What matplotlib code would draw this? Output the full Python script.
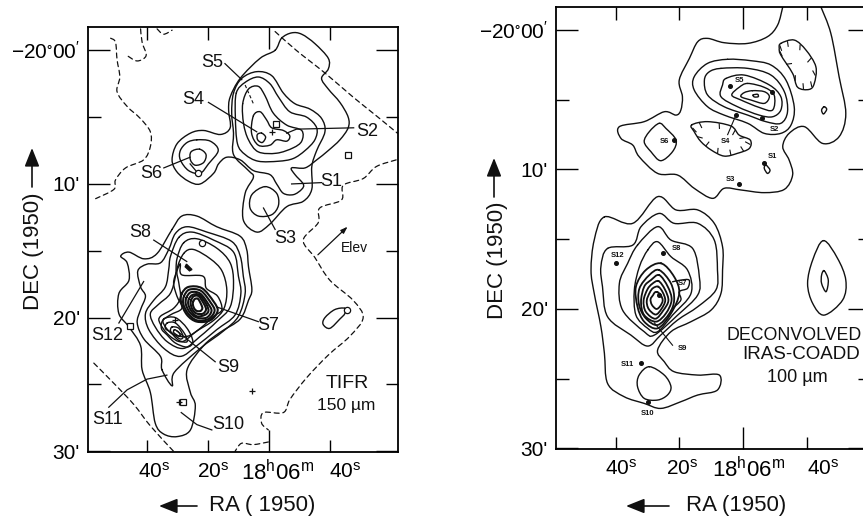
import matplotlib
matplotlib.use("Agg")
import matplotlib.pyplot as plt
from matplotlib.path import Path
from matplotlib.patches import PathPatch
from matplotlib.transforms import ScaledTranslation
import numpy as np

plt.rcParams['font.family'] = ['Liberation Sans', 'DejaVu Sans']
plt.rcParams['mathtext.default'] = 'regular'

# all contours are (RA seconds from 18h06m, Dec arcmin below -20d00')

# ---- left panel, TIFR 150 um
t_upper_outer = [(-2.0,0),(-4.1,-0.9),(-7.4,-1.3),(-10.7,-1.2),(-15.0,-0.5),(-19.4,0.6),(-19.4,1.4),(-17.2,2.1),(-19.4,2.9),(-23.2,3.9),(-25.9,5.0),(-25.9,5.8),(-23.2,6.7),(-19.4,7.5),(-15.6,8.2),(-11.8,8.8),(-7.4,8.8),(-8.5,9.3),(-11.2,10.0),(-10.7,10.4),(-8.0,10.8),(-4.7,10.7),(-2.5,10.0),(-0.3,9.3),(5.1,9.0),(9.4,8.2),(13.8,8.0),(16.5,8.5),(18.1,9.2),(22.5,10.0),(26.3,9.8),(30.1,9.1),(31.7,8.2),(30.1,7.0),(25.7,6.2),(21.4,6.0),(15.9,6.3),(12.7,5.8),(13.2,4.5),(12.7,3.5),(9.4,2.1),(2.9,0.6)]
t_upper_2 = [(11.6,3.2),(8.9,2.1),(4.0,1.6),(-0.9,1.9),(-4.7,3.2),(-8.5,4.0),(-13.4,4.4),(-17.2,5.1),(-18.3,6.1),(-15.6,7.5),(-14.0,8.7),(-14.0,10.4),(-11.2,11.3),(-5.8,11.7),(-0.3,13.0),(4.0,13.6),(8.4,12.7),(7.8,10.7),(5.1,9.5),(6.7,9.0),(11.6,7.8),(11.6,6.2),(12.2,4.7)]
t_s3 = [(1.3,10.2),(-2.5,10.7),(-3.1,11.6),(-0.9,12.3),(3.5,12.4),(6.2,11.8),(5.6,10.8)]
t_upper_3 = [(10.7,3.2),(7.8,2.4),(3.5,2.0),(-0.3,2.5),(-3.1,3.5),(-6.8,4.6),(-12.3,5.0),(-15.6,5.8),(-15.0,6.7),(-11.8,7.5),(-7.9,8.1),(-3.1,8.3),(3.5,8.3),(7.8,7.8),(10.3,7.0),(11.0,5.0)]
t_upper_4 = [(8.6,4.0),(6.7,2.9),(3.5,2.7),(1.3,3.4),(-1.4,4.7),(-5.8,5.6),(-10.7,6.0),(-10.7,6.8),(-7.9,7.3),(-2.5,7.7),(3.5,7.6),(6.7,6.7),(8.3,5.5)]
t_upper_5 = [(5.1,4.9),(2.9,4.6),(0.8,5.2),(-0.9,5.8),(-4.7,6.0),(-6.8,6.4),(-5.8,6.8),(-2.5,6.7),(-0.3,7.1),(3.5,7.1),(5.7,6.2)]
t_s4 = [(2.4,6.2),(1.1,6.5),(2.2,6.9),(3.7,6.7),(3.8,6.3)]
t_s6_a = [(23.6,6.7),(19.2,6.8),(16.6,7.5),(19.8,8.5),(22.5,9.2),(26.3,9.0),(29.0,8.2),(29.0,7.5),(26.8,6.9)]
t_s6_b = [(22.7,7.4),(20.6,7.8),(21.4,8.4),(24.1,8.6),(25.7,8.2),(25.5,7.6)]
t_lower_1 = [(31.7,13.4),(28.5,12.4),(23.6,12.4),(17.1,13.2),(9.5,13.9),(7.3,14.9),(6.7,16.2),(5.6,17.9),(6.7,18.7),(9.4,20.1),(16.0,21.1),(21.4,22.1),(26.8,23.9),(25.7,25.6),(24.1,26.6),(25.7,28.4),(30.1,28.9),(34.5,28.7),(37.2,27.9),(38.8,25.6),(41.5,23.9),(42.0,22.1),(45.8,20.7),(49.1,19.7),(49.1,18.2),(45.8,17.2),(46.4,15.9),(48.5,15.4),(45.8,15.1),(40.9,15.6),(36.6,15.2)]
t_lower_2 = [(35.0,23.9),(31.7,25.1),(31.0,24.1),(22.5,22.3),(14.9,21.0),(10.0,19.9),(7.8,18.2),(8.4,16.9),(9.4,15.4),(12.2,14.3),(20.3,13.6),(26.8,13.2),(30.6,13.7),(32.8,14.9),(35.5,15.9),(39.9,16.0),(42.9,16.5),(42.0,17.7),(40.4,18.4),(42.0,19.4),(43.1,20.4),(40.9,21.6),(35.5,22.9)]
t_lower_3 = [(29.5,14.0),(25.2,13.6),(18.1,14.2),(11.6,15.1),(10.0,16.9),(9.2,18.2),(11.1,19.8),(17.1,20.9),(23.6,22.1),(29.0,22.9),(34.4,22.3),(39.3,20.9),(40.4,19.7),(37.7,18.7),(33.9,17.7),(32.8,16.4),(32.2,15.4)]
t_lower_4 = [(27.9,14.4),(23.6,14.1),(17.1,14.8),(12.7,15.9),(11.6,17.4),(12.7,19.2),(17.1,20.3),(22.5,21.4),(27.9,22.3),(33.3,21.8),(37.2,20.7),(38.8,19.7),(36.1,19.0),(32.3,18.2),(30.6,16.9),(30.1,15.6)]
t_lower_5 = [(27.9,15.2),(24.7,14.9),(19.2,15.6),(15.4,16.5),(13.8,17.9),(14.7,19.3),(18.1,20.2),(23.6,21.0),(28.5,21.8),(32.8,21.3),(35.7,20.4),(35.5,19.9),(31.2,19.3),(29.0,18.5),(29.5,17.4),(30.1,16.4)]
t_lower_6 = [(29.0,16.0),(28.5,16.8),(21.6,16.9),(20.5,17.8),(16.8,18.4),(15.4,19.4),(18.1,19.9),(22.5,20.8),(26.8,21.4),(31.7,21.2),(34.7,20.3),(32.3,19.8),(28.5,19.3),(30.1,18.4),(31.2,17.4),(30.1,16.5)]
t_s7_rings = [
    [(28.5,18.2),(26.3,17.7),(21.9,17.8),(18.1,18.8),(16.8,19.5),(19.2,20.2),(23.6,20.3),(26.8,19.8),(28.7,18.9)],
    [(27.8,18.4),(26.0,17.9),(22.2,18.0),(19.0,18.9),(17.8,19.5),(19.8,20.1),(23.6,20.2),(26.4,19.7),(28.0,19.0)],
    [(27.0,18.5),(25.5,18.1),(22.5,18.2),(19.8,19.0),(18.8,19.5),(20.4,20.0),(23.6,20.0),(25.9,19.6),(27.2,19.0)],
    [(26.2,18.6),(25.0,18.3),(22.8,18.3),(20.5,19.0),(19.8,19.5),(21.0,19.8),(23.6,19.9),(25.4,19.5),(26.4,19.0)],
    [(25.5,18.7),(24.6,18.4),(23.0,18.4),(21.2,19.0),(20.6,19.4),(21.6,19.7),(23.6,19.7),(25.0,19.4),(25.6,19.0)],
    [(24.8,18.8),(24.2,18.6),(23.2,18.6),(22.2,19.0),(21.8,19.3),(22.4,19.5),(23.6,19.5),(24.5,19.3),(24.9,19.0)],
]
t_s9_rings = [
    [(34.4,20.1),(30.6,20.0),(26.8,20.8),(24.9,21.8),(26.8,22.2),(30.6,21.9),(33.3,21.3),(35.2,20.8)],
    [(33.3,20.4),(30.6,20.4),(27.6,21.2),(26.8,21.8),(29.5,21.7),(32.2,21.1),(33.9,20.8)],
    [(31.7,20.7),(29.5,20.8),(28.1,21.4),(29.0,21.6),(30.9,21.3),(32.2,21.0)],
    [(30.9,20.9),(29.5,21.1),(29.0,21.4),(30.1,21.3),(31.2,21.1)],
]
t_s8_blob = [(27.0,16.0),(25.2,16.4),(26.0,16.5),(27.4,16.2)]
t_east = [(-24.8,19.3),(-21.5,19.4),(-18.3,20.0),(-17.7,20.5),(-19.9,20.8),(-23.2,20.1),(-24.8,19.7)]

t_dash_west = [(51.8,-0.9),(50.2,-0.6),(49.7,0.7),(48.8,2.0),(49.7,3.1),(46.4,4.2),(42.1,5.1),(38.8,6.1),(38.8,7.2),(41.0,8.2),(46.9,8.8),(50.2,9.7),(50.7,10.4),(56.7,11.1)]
t_dash_top = [(42.0,-1.6),(41.5,-0.6),(40.2,0.4),(43.1,0.8),(46.4,0.4)]
t_dash_top2 = [(36.6,-1.6),(34.5,-1.2),(31.7,-1.5)]
t_dash_ne = [(-2.0,-1.4),(-8.9,0),(-18.3,1.7),(-27.5,3.5),(-35.1,4.9),(-42.0,6.2)]
t_dash_east = [(-41.6,8.2),(-35.1,8.7),(-30.8,9.6),(-24.3,10.1),(-23.7,11.2),(-16.6,11.8),(-16.1,12.9),(-11.2,14.2),(-15.0,15.5),(-19.9,17.2),(-27.5,18.7),(-30.8,20.0),(-26.4,21.4),(-19.4,22.8),(-12.3,24.5),(-6.9,26.1),(-4.7,27.1),(1.8,27.1),(2.4,27.9),(0.2,28.4)]
t_dash_bottom = [(0.2,29.3),(5.2,29.5),(9.0,29.4),(11.1,30.0)]
t_dash_sw = [(57.3,23.4),(50.8,24.9),(44.2,26.5),(38.8,28.1),(31.2,30.0)]

t_squares = [(-2.2,5.5),(-26.0,7.8),(45.3,20.6),(28.0,26.3)]
t_circles = [(23.3,9.2),(22.0,14.4),(-25.4,19.4)]
t_plus = [(-0.9,6.1),(29.3,26.3),(5.4,25.5),(30.6,20.2)]
t_leaders = [
    [(14.4,1.0),(8.9,2.2)],
    [(19.8,3.9),(4.0,6.1)],
    [(-27.7,5.8),(-9.0,5.9),(-5.8,6.2)],
    [(34.4,8.8),(25.8,8.0)],
    [(25.8,8.5),(23.6,9.1)],
    [(-17.2,9.9),(-7.4,10.0)],
    [(-2.0,13.4),(1.8,11.8)],
    [(37.7,14.2),(26.9,15.8)],
    [(49.1,20.4),(41.0,17.3)],
    [(3.5,20.3),(17.1,19.2)],
    [(17.6,23.3),(30.1,21.0)],
    [(52.4,26.7),(46.4,25.4),(39.9,24.6),(33.4,24.3)],
    [(18.7,28.4),(23.6,28.0),(28.7,27.1)],
]
t_leader_dash = [(7.8,2.6),(5.1,4.0)]
t_names = ['S5','S4','S2','S6','S1','S3','S8','S12','S7','S9','S11','S10']
t_name_pos = [(18.7,0.9),(24.9,3.7),(-32.1,6.1),(38.6,9.2),(-20.4,9.8),(-5.4,14.1),(42.0,13.6),(52.9,21.3),(0.2,20.6),(13.3,23.7),(52.7,27.6),(13.3,28.0)]

# ---- right panel, deconvolved IRAS coadd 100 um
r_upper_outer = [(-12.5,-1.65),(-10.9,-0.36),(-7.7,0.48),(-1.5,0.96),(5.9,0.91),(11.1,0.60),(14.2,0.84),(16.8,2.03),(20.0,3.59),(19.0,4.78),(19.5,5.74),(21.0,6.10),(24.7,5.86),(31.0,6.57),(38.8,6.93),(38.3,7.77),(34.6,8.25),(32.6,9.08),(26.8,10.28),(20.5,10.40),(15.3,11.35),(9.5,12.07),(5.9,11.35),(0.6,11.47),(-6.7,11.66),(-12.98,11.43),(-15.6,10.40),(-14.5,9.32),(-12.5,8.37),(-14.5,7.41),(-19.3,6.93),(-25.0,8.13),(-30.2,7.65),(-32.3,5.98),(-30.2,3.35),(-27.6,0.24),(-24.5,-1.65)]
r_hatch_ne = [(-11.9,0.96),(-16.1,0.72),(-19.8,1.44),(-22.9,2.63),(-22.4,3.83),(-20.8,4.26),(-17.2,4.11),(-15.6,3.11),(-11.9,1.79),(-11.4,1.32)]
r_peak_2 = [(4.8,2.10),(-2.5,2.2),(-8.8,2.51),(-13.5,3.59),(-16.1,5.5),(-15.1,6.81),(-11.9,7.41),(-6.7,7.41),(-1.5,6.69),(5.9,6.1),(11.1,5.5),(15.3,4.3),(15.3,3.35),(11.1,2.39)]
r_peak_3 = [(6.9,2.75),(-1.5,2.75),(-8.8,3.23),(-13.0,4.42),(-14.0,5.86),(-11.9,6.69),(-7.2,6.57),(-1.5,6.1),(5.9,5.5),(11.1,4.66),(12.1,3.59),(10.6,3.0)]
r_peak_4 = [(5.3,3.47),(-0.4,3.23),(-8.3,3.94),(-11.9,4.78),(-11.9,5.74),(-9.3,6.22),(-5.1,6.1),(1.7,5.5),(6.9,4.78),(6.4,3.94)]
r_peak_5 = [(-1.5,3.83),(-6.7,4.11),(-9.8,4.66),(-9.3,5.74),(-5.1,5.55),(0.6,5.02),(3.5,4.66),(1.2,4.11)]
r_peak_6 = [(-3.0,4.35),(-6.7,4.42),(-8.3,4.78),(-6.7,5.26),(-2.5,5.02),(0.6,4.78),(-0.4,4.49)]
r_peak_7 = [(-3.2,4.66),(-4.6,4.61),(-4.8,4.78),(-3.6,4.8)]
r_hatch_s4 = [(16.1,6.81),(11.1,6.57),(3.8,6.88),(1.2,7.53),(-2.3,7.89),(-2.0,8.49),(1.7,8.84),(5.9,9.04),(10.0,8.6),(13.2,8.0),(15.3,7.29)]
r_s6 = [(26.3,6.69),(24.2,7.05),(21.0,7.89),(22.1,8.72),(25.8,9.37),(28.9,8.72),(31.0,8.01),(29.4,7.29)]
r_s1 = [(-7.2,9.68),(-8.5,10.04),(-7.7,10.28),(-6.7,9.92)]
r_tiny_east = [(-25.5,5.5),(-26.3,5.69),(-25.3,6.02),(-24.7,5.74)]
r_lower_1 = [(43.5,13.4),(34.6,13.86),(26.8,11.95),(21.0,12.9),(14.2,12.9),(9.0,13.86),(6.4,15.54),(6.4,17.21),(6.9,18.88),(10.0,20.08),(16.3,20.91),(22.6,21.63),(26.8,22.95),(24.7,23.78),(21.6,24.5),(14.2,24.74),(7.4,24.74),(8.0,25.81),(14.2,26.17),(19.5,26.65),(25.8,27.13),(31.0,26.77),(37.3,26.29),(42.5,25.34),(43.5,23.18),(44.6,21.27),(46.7,18.88),(47.7,17.21),(46.7,15.06)]
r_lower_2 = [(42.5,15.66),(34.6,15.42),(32.0,14.1),(26.3,13.15),(21.6,13.86),(14.2,13.86),(9.0,15.06),(8.0,17.21),(8.5,18.64),(14.2,19.84),(20.5,20.79),(25.8,21.87),(29.9,22.66),(35.2,21.87),(42.5,20.56),(44.1,18.4),(44.6,16.97)]
r_lower_3 = [(33.1,15.42),(26.8,14.1),(22.6,15.06),(15.8,15.66),(13.7,17.69),(14.2,19.0),(20.5,20.44),(27.8,21.87),(31.0,21.63),(37.8,20.08),(38.8,18.17),(36.2,16.73)]
r_lower_4 = [(29.9,15.78),(26.8,15.18),(22.6,16.25),(17.4,17.21),(16.3,18.88),(22.1,20.44),(26.8,21.63),(29.9,21.39),(33.6,20.44),(34.1,18.64),(32.5,16.97)]
r_rings = [
    [(25.7,16.73),(21.6,17.69),(20.0,18.88),(22.6,20.32),(26.8,21.39),(31.0,20.91),(33.1,19.84),(33.6,18.4),(30.5,17.21)],
    [(26.3,17.21),(22.6,18.17),(21.6,19.36),(23.1,20.32),(26.8,21.15),(30.5,20.67),(32.6,19.72),(32.5,18.53),(29.4,17.57)],
    [(26.3,17.57),(23.6,18.4),(22.4,19.36),(24.2,20.32),(27.3,20.91),(31.0,20.44),(32.0,19.48),(31.0,18.4),(28.9,17.93)],
    [(26.5,18.0),(24.5,18.6),(23.4,19.4),(25.0,20.1),(27.5,20.7),(30.5,20.2),(31.2,19.4),(30.0,18.6),(28.5,18.2)],
    [(26.6,18.4),(25.2,18.8),(24.4,19.4),(25.6,20.0),(27.4,20.4),(29.6,20.0),(30.2,19.4),(29.2,18.8),(28.2,18.5)],
    [(26.8,18.8),(25.8,19.0),(25.2,19.4),(26.0,19.8),(27.2,20.0),(28.6,19.7),(29.0,19.3),(28.2,19.0),(27.6,18.8)],
]
r_s7_lobe = [(22.1,18.05),(19.5,17.93),(16.9,17.93),(17.4,18.52),(20.0,18.76),(19.5,19.36),(22.1,19.96)]
r_s11 = [(29.4,24.14),(24.7,24.74),(22.6,25.57),(23.7,26.17),(26.8,26.53),(31.0,26.41),(33.1,25.57),(32.6,24.74)]
r_east_outer = [(-25.3,15.1),(-29.7,16.37),(-32.3,17.93),(-31.3,19.36),(-25.5,20.44),(-21.9,19.6),(-20.3,18.17),(-21.9,16.49)]
r_east_inner = [(-25.5,17.26),(-26.8,17.93),(-26.1,18.76),(-24.7,18.17),(-24.7,17.57)]
r_dots = [(3.98,4.0),(-9.0,4.47),(2.2,6.1),(-6.0,6.3),(21.6,7.9),(-6.7,9.56),(1.2,11.04),(25.2,16.0),(39.9,16.7),(32.0,23.9),(26.3,19.0),(29.9,26.7)]
r_leaders = [[(4.8,7.5),(2.2,6.1)],[(22.1,22.6),(27.8,21.0)]]
r_names = ['S5','S4','S6','S2','S1','S3','S8','S12','S7','S9','S11','S10']
r_name_pos = [(1.1,3.6),(5.4,8.0),(24.7,8.0),(-9.8,7.1),(-9.3,9.1),(3.8,10.7),(21.0,15.7),(39.4,16.2),(19.0,18.2),(19.0,22.8),(36.2,24.0),(29.9,27.5)]

# the tick right of 18h06m is 18h05m40s, 20 s further on
ra_minor = [40, 20, -20]
ra_minor_labels = ['$40^{s}$', '$20^{s}$', '$40^{s}$']
ra_major_label = '$18^{h}06^{m}$'
dec_major = [0, 10, 20, 30]
dec_minor = [5, 15, 25]
dec_labels = ['$-20^{\\circ}00^{\\prime}$', "10'", "20'", "30'"]


def curve(ax, pts, closed=True, ls='-', lw=1.0):
    # bezier through the read points so the line keeps its hand drawn look
    pts = np.array(pts, dtype=float)
    n = len(pts)
    verts = [pts[0]]
    codes = [Path.MOVETO]
    for i in range(n if closed else n - 1):
        if closed:
            p0, p1, p2, p3 = pts[(i - 1) % n], pts[i], pts[(i + 1) % n], pts[(i + 2) % n]
        else:
            p0, p1, p2, p3 = pts[max(i - 1, 0)], pts[i], pts[i + 1], pts[min(i + 2, n - 1)]
        verts += [p1 + (p2 - p0) / 6, p2 - (p3 - p1) / 6, p2]
        codes += [Path.CURVE4, Path.CURVE4, Path.CURVE4]
    ax.add_patch(PathPatch(Path(verts, codes), fc='none', ec='#111111', lw=lw, ls=ls, capstyle='round'))


def hatch(ax, pts):
    # short strokes on a depression contour, pointing to its middle
    pts = np.array(pts, dtype=float)
    mid = pts.mean(axis=0)
    for i in range(len(pts)):
        p = (pts[i] + pts[(i + 1) % len(pts)]) / 2
        d = (mid - p) * np.array([1 / 3.1, 1 / 0.075 / 3.1])
        d = d / np.hypot(d[0], d[1]) * 1.5
        ax.plot([p[0], p[0] + d[0]], [p[1], p[1] + d[1] * 0.22], color='#111111', lw=0.8)


def setup(ax, xlim, ylim, shifts, minor_len=9):
    ax.set_xlim(*xlim)
    ax.set_ylim(*ylim)
    ax.set_xticks([0])
    ax.set_xticklabels([ra_major_label], fontsize=16)
    ax.set_xticks(ra_minor, labels=ra_minor_labels, minor=True, fontsize=15)
    ax.set_yticks(dec_major)
    ax.set_yticklabels(dec_labels, fontsize=15)
    ax.set_yticks(dec_minor, minor=True)
    ax.tick_params(which='major', direction='in', length=16, width=1.0, top=True, right=True, pad=6)
    ax.tick_params(which='minor', direction='in', length=minor_len, width=1.0, top=True, right=True, pad=7)
    for s in ax.spines.values():
        s.set_linewidth(1.3)
    # the labels sit a little to the right of their ticks
    tr = fig.dpi_scale_trans
    for lab, dx in zip(ax.get_xticklabels(which='minor'), shifts[:3]):
        lab.set_transform(lab.get_transform() + ScaledTranslation(dx / 100, 0, tr))
    for lab in ax.get_xticklabels():
        lab.set_transform(lab.get_transform() + ScaledTranslation(shifts[3] / 100, 0, tr))


W, H = 863, 521
fig = plt.figure(figsize=(W / 100, H / 100), dpi=100, facecolor='white')


def px_axes(l, t, r, b):
    return fig.add_axes([l / W, 1 - b / H, (r - l) / W, (b - t) / H])


def fig_text(x, y, s, **kw):
    fig.text(x / W, 1 - y / H, s, ha='center', va='center', color='#111111', **kw)


def fig_arrow(x0, y0, x1, y1):
    fig.add_artist(matplotlib.patches.FancyArrowPatch(
        (x0 / W, 1 - y0 / H), (x1 / W, 1 - y1 / H), transform=fig.transFigure,
        arrowstyle='-|>,head_length=0.7,head_width=0.28', mutation_scale=16, lw=1.2, color='#111111', shrinkA=0, shrinkB=0))


# left panel
ax1 = px_axes(88, 27, 398, 452)
setup(ax1, (59.2, -42.2), (30.05, -1.74), [7, 5, 15, 9])
for c in [t_upper_outer, t_upper_2, t_s3, t_upper_3, t_upper_4, t_upper_5, t_s4, t_s6_a, t_s6_b,
          t_lower_1, t_lower_2, t_lower_3, t_lower_4, t_lower_5, t_lower_6, t_east]:
    curve(ax1, c)
for c in t_s7_rings:
    curve(ax1, c, lw=1.5)
for c in t_s9_rings:
    curve(ax1, c)
blob = np.array(t_s8_blob)
ax1.fill(blob[:, 0], blob[:, 1], color='#111111')
for c in [t_dash_west, t_dash_top, t_dash_top2, t_dash_ne, t_dash_east, t_dash_bottom, t_dash_sw]:
    curve(ax1, c, closed=False, ls=(0, (4, 3)), lw=0.9)
for seg in t_leaders:
    seg = np.array(seg)
    ax1.plot(seg[:, 0], seg[:, 1], color='#111111', lw=0.9)
seg = np.array(t_leader_dash)
ax1.plot(seg[:, 0], seg[:, 1], color='#111111', lw=0.8, ls=(0, (3, 2)))
ax1.plot(*zip(*t_squares), ls='none', marker='s', ms=4, mfc='white', mec='#111111', mew=0.9)
ax1.plot(*zip(*t_circles), ls='none', marker='o', ms=4.5, mfc='white', mec='#111111', mew=0.9)
ax1.plot(*zip(*t_plus), ls='none', marker='+', ms=4.5, mec='#111111', mew=0.9)
for name, (x, y) in zip(t_names, t_name_pos):
    ax1.text(x, y, name, ha='center', va='center', fontsize=13, color='#111111')
ax1.annotate('', xy=(-25.7, 13.2), xytext=(-16.0, 15.3),
             arrowprops=dict(arrowstyle='-|>,head_length=0.4,head_width=0.14', color='#111111', lw=0.9, mutation_scale=10, shrinkA=0, shrinkB=0))
ax1.text(-28.0, 14.8, 'Elev', ha='center', va='center', fontsize=10, color='#111111')
ax1.text(-25.5, 24.9, 'TIFR', ha='center', va='center', fontsize=14, color='#111111')
ax1.text(-25.2, 26.6, '150 µm', ha='center', va='center', fontsize=12.5, color='#111111')

# right panel, frame runs past the cut edge of the scan
ax2 = px_axes(556, 7, 870, 449)
setup(ax2, (58.7, -39.9), (30.04, -1.65), [6, 3, 17, 6])
for c in [r_hatch_ne, r_peak_2, r_peak_3, r_peak_4, r_peak_5, r_peak_6, r_peak_7, r_hatch_s4, r_s6, r_s1,
          r_tiny_east, r_lower_1, r_lower_2, r_lower_3, r_lower_4, r_s11, r_east_outer, r_east_inner]:
    curve(ax2, c)
curve(ax2, r_upper_outer, closed=False)
curve(ax2, r_s7_lobe, closed=False)
for c in r_rings:
    curve(ax2, c, lw=1.3)
hatch(ax2, r_hatch_ne)
hatch(ax2, r_hatch_s4)
ax2.plot(*zip(*r_dots), ls='none', marker='o', ms=2.6, color='#111111')
for seg in r_leaders:
    seg = np.array(seg)
    ax2.plot(seg[:, 0], seg[:, 1], color='#111111', lw=0.8)
for name, (x, y) in zip(r_names, r_name_pos):
    ax2.text(x, y, name, ha='center', va='center', fontsize=5.5, fontweight='bold', color='#111111')
ax2.text(-16.1, 21.87, 'DECONVOLVED', ha='center', va='center', fontsize=12.8, color='#111111')
ax2.text(-18.2, 23.3, 'IRAS-COADD', ha='center', va='center', fontsize=13.5, color='#111111')
ax2.text(-17.2, 24.9, '100 µm', ha='center', va='center', fontsize=13, color='#111111')

# axis titles with their arrows
fig_text(33, 251, 'DEC (1950)', rotation=90, fontsize=16)
fig_arrow(32, 187, 32, 148)
fig_text(262, 505, 'RA ( 1950)', fontsize=16)
fig_arrow(197, 506, 159, 506)
fig_text(497, 260, 'DEC (1950)', rotation=90, fontsize=16)
fig_arrow(494, 197, 494, 158)
fig_text(736, 505, 'RA (1950)', fontsize=16)
fig_arrow(669, 506, 626, 506)

fig.savefig('out.png', dpi=100)
